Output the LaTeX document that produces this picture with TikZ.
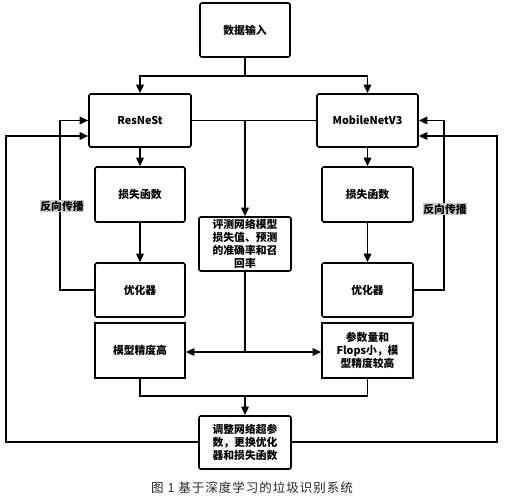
\documentclass[tikz,border=0pt]{standalone}
\usepackage{fontspec}
\setmainfont{Noto Sans CJK SC}
\newfontfamily\capfont[LetterSpace=8]{Noto Sans CJK SC}
\usetikzlibrary{arrows.meta}
\tikzset{
  box/.style={draw=black, line width=1.6pt, rounded corners=2pt, align=center,
    inner sep=1pt, font=\fontsize{10.8}{12.8}\selectfont\bfseries},
  conn/.style={line width=1.6pt},
  arr/.style={line width=1.6pt, -{Triangle[length=8.5pt,width=7.5pt]}},
  lbl/.style={fill=black!20, inner sep=0.8pt, font=\fontsize{10.8}{12}\selectfont\bfseries}
}
\begin{document}
\begin{tikzpicture}[x=1pt,y=-1pt]
\useasboundingbox[fill=white] (0,0) rectangle (505,500);
\node[box, minimum width=90pt, minimum height=54pt] (in) at (245,30) {数据输入};
\node[box, minimum width=102pt, minimum height=53pt] (res) at (140,120.5) {ResNeSt};
\node[box, minimum width=101pt, minimum height=53pt] (mob) at (367.5,120.5) {MobileNetV3};
\node[box, minimum width=90pt, minimum height=55pt] (loss1) at (140,194.5) {损失函数};
\node[box, minimum width=91pt, minimum height=55pt] (loss2) at (367.5,194.5) {损失函数};
\node[box, minimum width=92pt, minimum height=54pt] (eval) at (245,244) {评测网络模型\\损失值、预测\\的准确率和召\\回率};
\node[box, minimum width=90pt, minimum height=54pt] (opt1) at (140,290) {优化器};
\node[box, minimum width=91pt, minimum height=54pt] (opt2) at (367.5,290) {优化器};
\node[box, minimum width=90pt, minimum height=55pt, rounded corners=0pt] (acc1) at (140,350.5) {模型精度高};
\node[box, minimum width=91pt, minimum height=55pt, rounded corners=0pt] (acc2) at (367.5,350.5) {参数量和\\Flops小，模\\型精度较高};
\node[box, minimum width=92pt, minimum height=53pt] (adj) at (245,442.5) {调整网络超参\\数，更换优化\\器和损失函数};

\coordinate (split) at (245,76);
\coordinate (mid) at (245,120.5);
\coordinate (evb) at (245,352);
\coordinate (join) at (245,396);
\coordinate (L1) at (60,290);
\coordinate (R1) at (444,290);
\coordinate (L0) at (6,442);
\coordinate (R0) at (497,442);

\draw[conn] (in.south) -- (split);
\draw[arr] (split) -| (res.north);
\draw[arr] (split) -| (mob.north);
\draw[conn] (res.east) -- (mob.west);
\draw[arr] (mid) -- (eval.north);
\draw[arr] (res.south) -- (loss1.north);
\draw[arr] (mob.south) -- (loss2.north);
\draw[arr] (loss1.south) -- (opt1.north);
\draw[arr] (loss2.south) -- (opt2.north);
\draw[arr] (opt1.west) -- (L1) |- (res.west);
\draw[arr] (opt2.east) -- (R1) |- (mob.east);
\draw[arr] (adj.west |- L0) -- (L0) |- ([yshift=-15.5pt]res.west);
\draw[arr] (adj.east |- R0) -- (R0) |- ([yshift=-15.5pt]mob.east);
\draw[conn] (eval.south) -- (evb);
\draw[arr] (evb) -- (acc1.east |- evb);
\draw[arr] (evb) -- (acc2.west |- evb);
\draw[conn] (acc1.south) |- (join) -| (acc2.south);
\draw[arr] (join) -- (adj.north);

\node[lbl] (bp1) at (62,206) {反向传播};
\node[lbl] (bp2) at (445,209) {反向传播};
\node[font=\capfont\fontsize{12.5}{14}\selectfont, text=black!85] (cap) at (252,488) {图 1 基于深度学习的垃圾识别系统};
\end{tikzpicture}
\end{document}
